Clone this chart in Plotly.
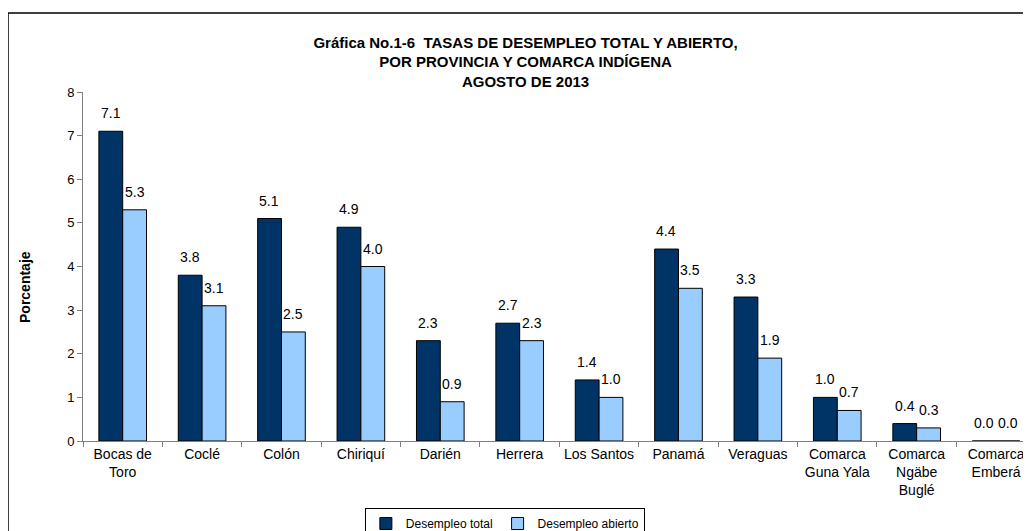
import plotly.graph_objects as go

categorias = [
    "Bocas de<br>Toro", "Coclé", "Colón", "Chiriquí", "Darién", "Herrera",
    "Los Santos", "Panamá", "Veraguas", "Comarca<br>Guna Yala",
    "Comarca<br>Ngäbe<br>Buglé", "Comarca<br>Emberá",
]
desempleo_total = [7.1, 3.8, 5.1, 4.9, 2.3, 2.7, 1.4, 4.4, 3.3, 1.0, 0.4, 0.0]
desempleo_abierto = [5.3, 3.1, 2.5, 4.0, 0.9, 2.3, 1.0, 3.5, 1.9, 0.7, 0.3, 0.0]
y_ticks = [0, 1, 2, 3, 4, 5, 6, 7, 8]

FONT = "Liberation Sans, Arial, sans-serif"

# the page body has an 8px margin, so the figure is laid out 8px up/left
L, T, W, H = 75, 84, 948, 349

fig = go.Figure()
fig.add_trace(go.Bar(
    x=categorias, y=desempleo_total, name="Desempleo total",
    marker=dict(color="#003366", line=dict(color="black", width=1)),
))
fig.add_trace(go.Bar(
    x=categorias, y=desempleo_abierto, name="Desempleo abierto",
    marker=dict(color="#99CCFF", line=dict(color="black", width=1)),
))

# data labels, sitting a little above each bar
for serie, shift in [(desempleo_total, -12), (desempleo_abierto, 12)]:
    for cat, v in zip(categorias, serie):
        fig.add_annotation(
            x=cat, y=v, text=f"{v:.1f}", showarrow=False,
            xshift=shift, yshift=8, yanchor="bottom",
            font=dict(size=14, color="black"),
        )

# y axis title
fig.add_annotation(
    xref="paper", yref="paper", x=(17 - L) / W, y=(T + H - 279) / H,
    xanchor="center", yanchor="middle",
    text="<b>Porcentaje</b>", textangle=-90, showarrow=False,
    font=dict(size=14, color="black"),
)

# outer frame of the chart
fig.add_shape(
    type="rect", xref="paper", yref="paper",
    x0=(0 - L) / W, x1=1.2, y0=-0.4, y1=(T + H - 5) / H,
    line=dict(color="black", width=1.5), layer="below",
)

fig.update_layout(
    width=1031, height=531,
    margin=dict(l=L, r=1031 - L - W, t=T, b=531 - T - H),
    paper_bgcolor="white", plot_bgcolor="white",
    font=dict(family=FONT, size=13, color="black"),
    barmode="group", bargap=0.40, bargroupgap=0,
    title=dict(
        text="<b>Gráfica No.1-6  TASAS DE DESEMPLEO TOTAL Y ABIERTO,<br>"
             "POR PROVINCIA Y COMARCA INDÍGENA<br>AGOSTO DE 2013</b>",
        x=0.502, xanchor="center", y=0.925, yanchor="top",
        font=dict(family=FONT, size=15, color="black"),
    ),
    xaxis=dict(
        range=[-0.5, 11.44], automargin=False,
        showline=True, linecolor="#808080", linewidth=1,
        ticks="outside", tickson="boundaries", ticklen=5, tickcolor="#808080",
        tickfont=dict(size=14), showgrid=False,
    ),
    yaxis=dict(
        range=[0, 8], tickvals=y_ticks, automargin=False,
        showline=True, linecolor="#808080", linewidth=1,
        ticks="outside", ticklen=5, tickcolor="#808080",
        showgrid=False, zeroline=False, tickfont=dict(size=13),
    ),
    legend=dict(
        orientation="h", xref="paper", x=0.445, xanchor="center",
        yref="container", y=1 - 500 / 531, yanchor="top",
        bordercolor="black", borderwidth=1, font=dict(size=12),
        itemwidth=30, tracegroupgap=0,
    ),
)

fig.write_html("out.html")
